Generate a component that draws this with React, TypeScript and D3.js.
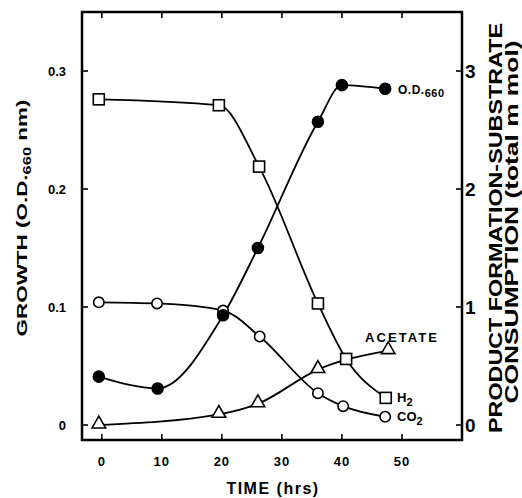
import * as d3 from "d3";

// time (hrs) and values
const odTime = [-0.5, 9.3, 20.2, 26, 36, 40, 47.2];
const odValue = [0.041, 0.031, 0.093, 0.15, 0.257, 0.288, 0.285]; // O.D. 660, left axis

const h2Time = [-0.5, 19.5, 26.2, 36, 40.7, 47.3];
const h2Value = [2.76, 2.71, 2.19, 1.03, 0.56, 0.23]; // m mol, right axis

const co2Time = [-0.5, 9.2, 20.2, 26.3, 36, 40.2, 47.2];
const co2Value = [1.04, 1.03, 0.97, 0.75, 0.27, 0.16, 0.07];

const acTime = [-0.5, 19.5, 26, 36, 47.7];
const acValue = [0.0, 0.09, 0.18, 0.47, 0.63];

const xTicks = [0, 10, 20, 30, 40, 50];
const leftTicks = [0, 0.1, 0.2, 0.3];
const leftTickLabels = ["0", "0.1", "0.2", "0.3"];
const rightTicks = [0, 1, 2, 3];

const W = 522;
const H = 498;
const frame = { left: 82, right: 462, top: 12, bottom: 440 };
const font = "'Liberation Sans', Arial, sans-serif";

export default function App() {
  const x = d3.scaleLinear().domain([-3.3, 60]).range([frame.left, frame.right]);
  const yL = d3.scaleLinear().domain([-0.0127, 0.35]).range([frame.bottom, frame.top]);
  const yR = d3.scaleLinear().domain([-0.127, 3.5]).range([frame.bottom, frame.top]);

  const zip = (t: number[], v: number[]) => t.map((d, i) => [d, v[i]] as [number, number]);
  const od = zip(odTime, odValue);
  const h2 = zip(h2Time, h2Value);
  const co2 = zip(co2Time, co2Value);
  const ac = zip(acTime, acValue);

  const lineL = d3.line<[number, number]>()
    .x(d => x(d[0])).y(d => yL(d[1]))
    .curve(d3.curveMonotoneX);
  const lineR = d3.line<[number, number]>()
    .x(d => x(d[0])).y(d => yR(d[1]))
    .curve(d3.curveMonotoneX);

  const tri = d3.symbol(d3.symbolTriangle, 80)();
  const tickLen = 6;

  return (
    <svg width={W} height={H} style={{ position: "absolute", left: 0, top: 0, background: "#fff" }}
      fontFamily={font} fontWeight="bold">
      {/* curves */}
      <g fill="none" stroke="#000" strokeWidth={1.8}>
        <path d={lineL(od) ?? ""} />
        <path d={lineR(h2) ?? ""} />
        <path d={lineR(co2) ?? ""} />
        <path d={lineR(ac) ?? ""} />
      </g>

      {/* markers */}
      <g stroke="#000" strokeWidth={1.6}>
        {ac.map((d, i) => (
          <path key={"a" + i} d={tri ?? ""} fill="#fff"
            transform={`translate(${x(d[0])},${yR(d[1]) - 1})`} />
        ))}
        {co2.map((d, i) => (
          <circle key={"c" + i} cx={x(d[0])} cy={yR(d[1])} r={5.2} fill="#fff" />
        ))}
        {h2.map((d, i) => (
          <rect key={"h" + i} x={x(d[0]) - 5.5} y={yR(d[1]) - 5.5} width={11} height={11} fill="#fff" />
        ))}
        {od.map((d, i) => (
          <circle key={"o" + i} cx={x(d[0])} cy={yL(d[1])} r={5.5} fill="#000" />
        ))}
      </g>

      {/* frame */}
      <rect x={frame.left} y={frame.top} width={frame.right - frame.left} height={frame.bottom - frame.top}
        fill="none" stroke="#000" strokeWidth={2.5} />

      {/* ticks */}
      <g stroke="#000" strokeWidth={1.6}>
        {xTicks.map(t => (
          <g key={"xt" + t}>
            <line x1={x(t)} x2={x(t)} y1={frame.bottom} y2={frame.bottom - tickLen} />
            <line x1={x(t)} x2={x(t)} y1={frame.top} y2={frame.top + tickLen} />
          </g>
        ))}
        {leftTicks.map(t => (
          <line key={"lt" + t} x1={frame.left} x2={frame.left + tickLen} y1={yL(t)} y2={yL(t)} />
        ))}
        {rightTicks.map(t => (
          <line key={"rt" + t} x1={frame.right} x2={frame.right - tickLen} y1={yR(t)} y2={yR(t)} />
        ))}
      </g>

      {/* tick labels */}
      <g fontSize={13} textAnchor="middle" letterSpacing={1}>
        {xTicks.map(t => (
          <text key={"xl" + t} x={x(t)} y={466}>{t}</text>
        ))}
      </g>
      <g fontSize={13} textAnchor="end">
        {leftTicks.map((t, i) => (
          <text key={"ll" + t} x={66} y={yL(t) + 5}>{leftTickLabels[i]}</text>
        ))}
      </g>
      <g fontSize={19} textAnchor="start">
        {rightTicks.map(t => (
          <text key={"rl" + t} x={465} y={yR(t) + 7}>{t}</text>
        ))}
      </g>

      {/* axis titles */}
      <text x={273} y={494} fontSize={16} textAnchor="middle" letterSpacing={1.5}>TIME (hrs)</text>
      <text transform="translate(27,218) rotate(-90)" fontSize={15} textAnchor="middle"
        textLength={237} lengthAdjust="spacingAndGlyphs">
        GROWTH  (O.D.<tspan fontSize={11} dy={4}>660</tspan><tspan dy={-4}> nm)</tspan>
      </text>
      <text transform="translate(502,228) rotate(-90)" fontSize={18} textAnchor="middle"
        textLength={410} lengthAdjust="spacingAndGlyphs">
        PRODUCT FORMATION-SUBSTRATE
      </text>
      <text transform="translate(518,222) rotate(-90)" fontSize={18} textAnchor="middle"
        textLength={363} lengthAdjust="spacingAndGlyphs">
        CONSUMPTION  (total m mol)
      </text>

      {/* series labels */}
      <text x={398} y={94} fontSize={12} letterSpacing={0.5}>
        O.D.<tspan fontSize={11} dy={3}>660</tspan>
      </text>
      <text x={365} y={342} fontSize={13} textLength={72} lengthAdjust="spacing">ACETATE</text>
      <text x={397} y={402} fontSize={13}>
        H<tspan fontSize={11} dy={4}>2</tspan>
      </text>
      <text x={397} y={421} fontSize={13}>
        CO<tspan fontSize={11} dy={4}>2</tspan>
      </text>
    </svg>
  );
}
